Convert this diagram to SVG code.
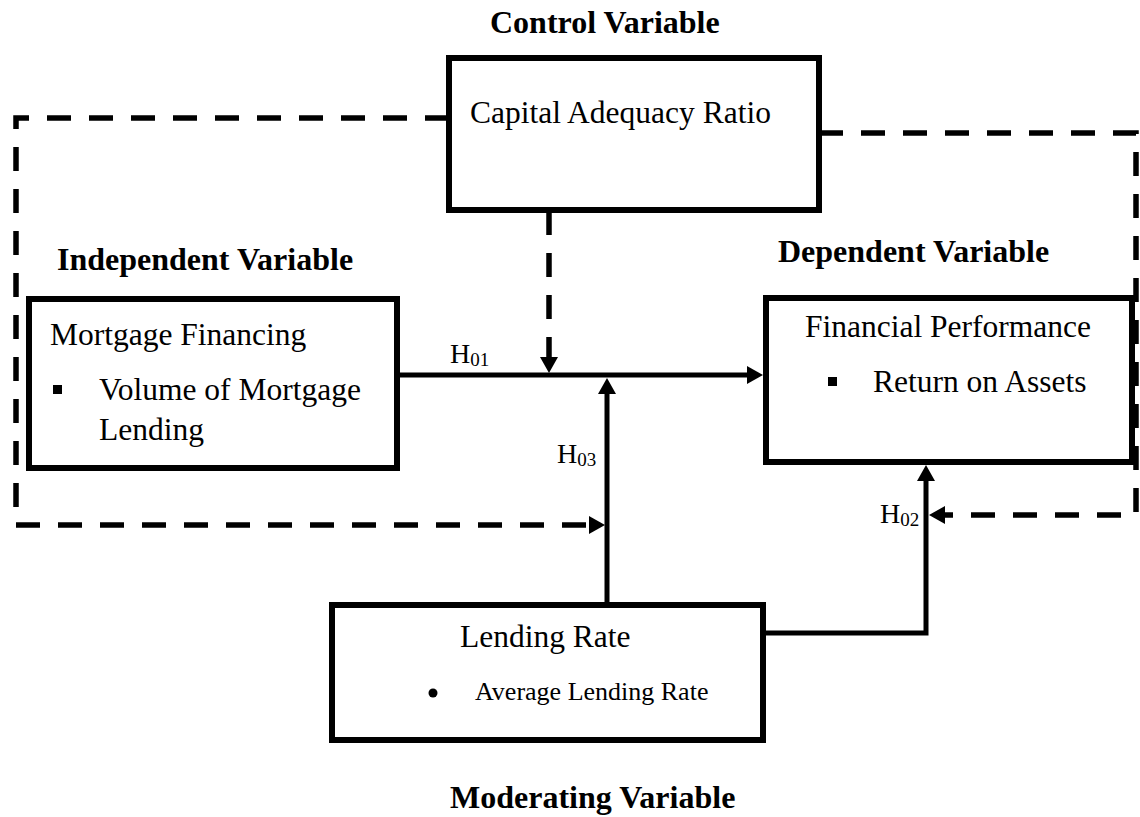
<svg xmlns="http://www.w3.org/2000/svg" width="1140" height="817" viewBox="0 0 1140 817">
<style>
.box{fill:#fff;stroke:#000;stroke-width:6}
.t{font-family:"Liberation Serif","Times New Roman",serif;font-size:31.5px;fill:#000}
.b{font-weight:bold;font-size:32px}
.s{font-size:26px}
.h{font-size:28px}
.sub{font-size:19px}
.ln{fill:none;stroke:#000;stroke-width:5}
.dash{fill:none;stroke:#000;stroke-width:5.5;stroke-dasharray:24 18}
</style>
<defs>
<marker id="ah" markerUnits="userSpaceOnUse" markerWidth="16" markerHeight="18" refX="6" refY="9" orient="auto" viewBox="0 0 16 18">
<path d="M0,0 L16,9 L0,18 z" fill="#000" stroke="none"/>
</marker>
</defs>
<rect width="1140" height="817" fill="#fff"/>
<g id="connectors">
<path class="dash" d="M449,118 H16 V525 H595" marker-end="url(#ah)"/>
<path class="dash" d="M819,133 H1136 V515 H939" marker-end="url(#ah)"/>
<path class="dash" d="M549,211 V363" marker-end="url(#ah)"/>
<path class="ln" d="M397,375 H753" marker-end="url(#ah)"/>
<path class="ln" d="M607,605 V388" marker-end="url(#ah)"/>
<path class="ln" d="M763,633 H926 V475" marker-end="url(#ah)"/>
<text class="t" x="450" y="363"><tspan class="h">H</tspan><tspan class="sub" dy="3">01</tspan></text>
<text class="t" x="557" y="463"><tspan class="h">H</tspan><tspan class="sub" dy="3">03</tspan></text>
<text class="t" x="880" y="523"><tspan class="h">H</tspan><tspan class="sub" dy="3">02</tspan></text>
</g>
<g id="control">
<text class="t b" x="490" y="33">Control Variable</text>
<rect class="box" x="449" y="58" width="370" height="152"/>
<text class="t" x="470" y="123">Capital Adequacy Ratio</text>
</g>
<g id="independent">
<text class="t b" x="57" y="270">Independent Variable</text>
<rect class="box" x="29" y="299" width="368" height="169"/>
<text class="t" x="50" y="345">Mortgage Financing</text>
<rect x="53" y="385" width="9" height="9" fill="#000"/>
<text class="t" x="99" y="400">Volume of Mortgage</text>
<text class="t" x="99" y="440">Lending</text>
</g>
<g id="dependent">
<text class="t b" x="778" y="262">Dependent Variable</text>
<rect class="box" x="766" y="298" width="366" height="164"/>
<text class="t" x="805" y="337">Financial Performance</text>
<rect x="828" y="377" width="9" height="9" fill="#000"/>
<text class="t" x="873" y="392">Return on Assets</text>
</g>
<g id="moderating">
<rect class="box" x="332" y="605" width="431" height="135"/>
<text class="t" x="460" y="647">Lending Rate</text>
<circle cx="433" cy="693" r="4.5" fill="#000"/>
<text class="t s" x="475" y="700">Average Lending Rate</text>
<text class="t b" x="450" y="808">Moderating Variable</text>
</g>
</svg>
